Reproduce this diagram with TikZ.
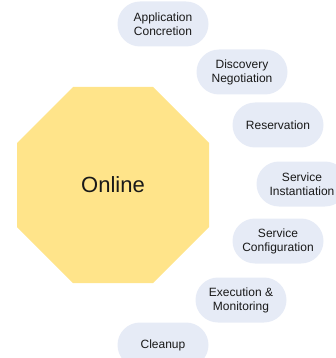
\documentclass[tikz,border=0pt]{standalone}
\usepackage{fontspec}
\setmainfont{Liberation Sans}
\usetikzlibrary{shapes.misc}
\definecolor{octfill}{RGB}{255,228,138}
\definecolor{pillfill}{RGB}{230,235,246}
\definecolor{txt}{RGB}{25,25,25}
\begin{document}
\begin{tikzpicture}[x=1pt,y=-1pt,
  pill/.style={rounded rectangle, fill=pillfill, minimum width=91pt, minimum height=45pt,
    inner sep=0pt, align=center, text=txt, font=\fontsize{12}{14}\selectfont},
  octa/.style={fill=octfill}]
\useasboundingbox (0,0) rectangle (336,358);
\begin{scope}
\clip (0,0) rectangle (336,358);
\fill[octa] (73,87) -- (153,87) -- (209,143) -- (209,227) -- (153,283) -- (73,283) -- (17,227) -- (17,143) -- cycle;
\node[text=txt, font=\fontsize{22}{26}\selectfont] (online) at (113,185) {Online};
\node[pill] (p1) at (163,24) {Application\\Concretion};
\node[pill] (p2) at (242,72) {Discovery\\Negotiation};
\node[pill] (p3) at (278,125) {Reservation};
\node[pill] (p4) at (302,184) {Service\\Instantiation};
\node[pill] (p5) at (278,241) {Service\\Configuration};
\node[pill] (p6) at (241,300) {Execution \&\\Monitoring};
\node[pill] (p7) at (163,345) {Cleanup};
\end{scope}
\end{tikzpicture}
\end{document}
